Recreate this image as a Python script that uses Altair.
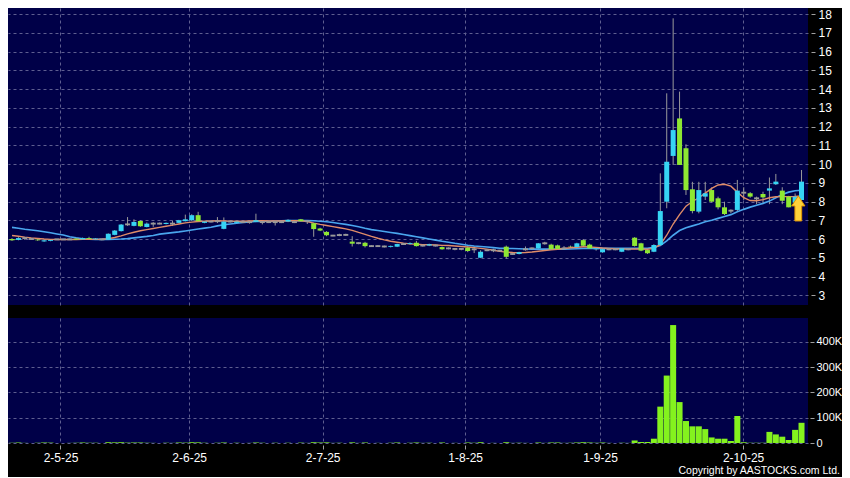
import altair as alt
import pandas as pd

# ---------------- data ----------------
opens = [
    6.00, 5.95, 6.05, 6.00, 5.97, 5.87, 5.90, 5.98, 5.98, 5.98,
    6.02, 5.98, 6.05, 5.98, 5.98, 5.96, 6.22, 6.42, 6.78, 6.70,
    6.96, 6.64, 6.82, 6.82, 6.80, 6.82, 6.86, 6.95, 7.00, 7.27,
    6.86, 6.93, 6.95, 6.54, 6.93, 6.86, 6.90, 6.90, 6.91, 6.90,
    6.90, 6.90, 6.90, 6.93, 6.90, 7.05, 6.95, 6.84, 6.56, 6.38,
    6.18, 6.21, 6.22, 5.86, 5.78, 5.80, 5.62, 5.62, 5.60, 5.58,
    5.59, 5.73, 5.73, 5.80, 5.65, 5.65, 5.65, 5.57, 5.50, 5.47,
    5.47, 5.54, 5.45, 5.00, 5.40, 5.40, 5.38, 5.59, 5.20, 5.20,
    5.45, 5.50, 5.50, 5.77, 5.70, 5.66, 5.50, 5.60, 5.57, 5.94,
    5.70, 5.45, 5.29, 5.45, 5.45, 5.32, 5.45, 6.07, 5.77, 5.41,
    5.32, 5.68, 7.99, 10.43, 12.43, 10.84, 8.65, 7.46, 8.26, 8.61,
    8.17, 7.69, 7.51, 7.55, 8.47, 8.44, 8.17, 8.40, 8.58, 8.92,
    8.58, 8.26, 7.94, 8.08,
]
closes = [
    5.93, 6.05, 6.05, 6.00, 5.93, 5.93, 5.95, 5.98, 5.98, 5.98,
    5.97, 6.05, 6.00, 6.02, 5.98, 6.28, 6.45, 6.77, 6.78, 6.91,
    6.68, 6.82, 6.82, 6.82, 6.86, 6.82, 7.00, 7.05, 7.27, 6.95,
    6.93, 6.93, 6.95, 6.93, 6.93, 6.93, 6.90, 6.90, 7.00, 6.90,
    6.90, 6.90, 6.90, 7.02, 6.90, 6.95, 6.95, 6.53, 6.45, 6.20,
    6.18, 6.21, 6.22, 5.75, 5.78, 5.62, 5.62, 5.62, 5.60, 5.63,
    5.73, 5.73, 5.78, 5.62, 5.65, 5.72, 5.65, 5.45, 5.50, 5.47,
    5.47, 5.36, 5.45, 5.32, 5.40, 5.40, 5.38, 5.05, 5.20, 5.30,
    5.45, 5.50, 5.77, 5.77, 5.46, 5.47, 5.50, 5.58, 5.77, 5.64,
    5.50, 5.50, 5.46, 5.45, 5.45, 5.50, 5.45, 5.63, 5.38, 5.24,
    5.68, 7.49, 10.12, 11.81, 9.95, 8.61, 7.49, 8.61, 8.44, 7.99,
    7.69, 7.33, 7.51, 8.58, 8.47, 8.26, 8.17, 8.22, 8.70, 9.06,
    8.04, 7.69, 8.26, 9.06,
]
highs = [
    6.05, 6.10, 6.10, 6.05, 6.00, 5.95, 5.97, 6.00, 6.00, 6.02,
    6.05, 6.08, 6.12, 6.05, 6.00, 6.30, 6.48, 6.80, 7.17, 7.05,
    7.00, 6.88, 6.90, 6.88, 6.88, 6.98, 7.02, 7.30, 7.32, 7.45,
    6.95, 6.97, 7.17, 7.15, 6.98, 6.95, 6.95, 6.95, 7.35, 7.00,
    6.95, 6.93, 6.95, 7.05, 6.95, 7.07, 7.00, 6.87, 6.60, 6.42,
    6.22, 6.28, 6.28, 6.15, 5.82, 5.85, 5.66, 5.66, 5.65, 5.65,
    5.75, 5.76, 5.82, 5.90, 5.70, 5.75, 5.70, 5.60, 5.55, 5.52,
    5.52, 5.60, 5.62, 5.40, 5.45, 5.48, 5.42, 5.65, 5.28, 5.32,
    5.60, 5.55, 5.78, 5.85, 5.75, 5.70, 5.62, 5.65, 5.80, 6.00,
    5.75, 5.52, 5.48, 5.50, 5.50, 5.52, 5.50, 6.10, 5.80, 5.45,
    5.72, 9.50, 13.77, 17.77, 13.86, 11.05, 9.05, 9.05, 9.05, 8.75,
    8.26, 7.99, 7.58, 9.15, 8.76, 8.50, 8.26, 8.52, 9.28, 9.47,
    8.76, 8.30, 8.43, 9.68,
]
lows = [
    5.90, 5.93, 5.95, 5.97, 5.90, 5.85, 5.88, 5.95, 5.95, 5.95,
    5.95, 5.97, 5.98, 5.95, 5.93, 5.95, 6.20, 6.40, 6.70, 6.68,
    6.65, 6.62, 6.65, 6.78, 6.78, 6.70, 6.84, 6.94, 6.96, 6.95,
    6.84, 6.88, 6.85, 6.52, 6.88, 6.84, 6.85, 6.82, 6.90, 6.78,
    6.85, 6.72, 6.85, 6.90, 6.85, 6.92, 6.80, 6.12, 6.42, 6.15,
    6.15, 6.15, 6.18, 5.60, 5.72, 5.55, 5.58, 5.58, 5.55, 5.55,
    5.57, 5.70, 5.70, 5.60, 5.60, 5.62, 5.60, 5.43, 5.45, 5.40,
    5.40, 5.30, 5.25, 4.98, 5.35, 5.30, 5.33, 4.95, 5.15, 5.18,
    5.38, 5.45, 5.48, 5.70, 5.44, 5.45, 5.45, 5.55, 5.55, 5.62,
    5.48, 5.38, 5.27, 5.40, 5.40, 5.30, 5.40, 5.60, 5.35, 5.20,
    5.30, 5.66, 7.64, 9.95, 9.95, 8.35, 7.37, 7.37, 8.08, 7.95,
    7.58, 7.28, 7.37, 7.46, 8.08, 8.20, 7.86, 7.86, 7.86, 8.88,
    7.86, 7.69, 7.90, 8.08,
]
volumes = [
    1000, 2000, 500, 0, 1000, 2000, 1500, 0, 0, 500,
    1000, 2000, 1000, 1000, 0, 3000, 2500, 3000, 1500, 2000,
    2000, 1000, 500, 0, 1000, 500, 2000, 1500, 3000, 2500,
    1000, 0, 1000, 2000, 0, 1000, 0, 500, 2000, 500,
    0, 1000, 0, 1000, 0, 1500, 500, 3000, 2000, 2500,
    500, 1000, 0, 2500, 500, 2000, 0, 500, 0, 1000,
    2000, 0, 1000, 2000, 500, 1000, 0, 2000, 0, 500,
    0, 2000, 1000, 3000, 0, 500, 0, 3000, 500, 1000,
    500, 0, 2000, 500, 2000, 2000, 500, 1000, 2000, 3000,
    2000, 1000, 2000, 500, 0, 1000, 500, 10000, 4000, 4000,
    17000, 144000, 267000, 467000, 162000, 87000, 66000, 66000, 55000, 22000,
    17000, 17000, 8000, 107000, 3000, 1000, 1000, 1000, 44000, 34000,
    25000, 12000, 52000, 80000,
]
ma_short = [
    6.19, 6.15, 6.10, 6.06, 6.03, 6.00, 5.98, 5.97, 5.97, 5.97,
    5.97, 5.98, 5.98, 5.98, 5.99, 6.02, 6.08, 6.17, 6.27, 6.36,
    6.44, 6.50, 6.56, 6.62, 6.68, 6.74, 6.80, 6.86, 6.90, 6.93,
    6.95, 6.96, 6.97, 6.96, 6.95, 6.95, 6.95, 6.96, 6.97, 6.97,
    6.96, 6.96, 6.96, 6.97, 6.97, 6.97, 6.93, 6.85, 6.78, 6.72,
    6.66, 6.60, 6.54, 6.46, 6.35, 6.25, 6.14, 6.04, 5.95, 5.88,
    5.83, 5.78, 5.74, 5.72, 5.70, 5.69, 5.68, 5.66, 5.65, 5.63,
    5.60, 5.57, 5.54, 5.50, 5.46, 5.40, 5.34, 5.30, 5.28, 5.27,
    5.28, 5.31, 5.35, 5.39, 5.42, 5.45, 5.49, 5.53, 5.56, 5.59,
    5.58, 5.55, 5.52, 5.50, 5.48, 5.47, 5.46, 5.47, 5.47, 5.45,
    5.50, 5.70, 6.20, 6.80, 7.30, 7.75, 8.00, 8.20, 8.45, 8.70,
    8.88, 8.92, 8.82, 8.50, 8.20, 8.05, 8.04, 8.10, 8.20, 8.25,
    8.26, 8.26, 8.27, 8.30,
]
ma_long = [
    6.62, 6.57, 6.52, 6.48, 6.44, 6.39, 6.33, 6.27, 6.21, 6.12,
    6.06, 6.01, 5.99, 5.98, 5.98, 5.98, 5.99, 6.00, 6.02, 6.06,
    6.10, 6.14, 6.19, 6.26, 6.30, 6.34, 6.38, 6.43, 6.48, 6.53,
    6.58, 6.63, 6.70, 6.76, 6.80, 6.84, 6.88, 6.91, 6.93, 6.94,
    6.95, 6.96, 6.97, 6.98, 6.98, 6.98, 6.98, 6.97, 6.95, 6.92,
    6.88, 6.83, 6.78, 6.72, 6.65, 6.57, 6.50, 6.45, 6.40, 6.35,
    6.30, 6.24, 6.18, 6.12, 6.06, 6.00, 5.94, 5.88, 5.83, 5.77,
    5.72, 5.67, 5.63, 5.60, 5.57, 5.54, 5.51, 5.50, 5.49, 5.48,
    5.47, 5.46, 5.46, 5.46, 5.46, 5.46, 5.46, 5.47, 5.48, 5.49,
    5.50, 5.50, 5.50, 5.50, 5.50, 5.50, 5.50, 5.50, 5.50, 5.50,
    5.56, 5.65, 5.90, 6.20, 6.45, 6.60, 6.70, 6.80, 6.92, 7.00,
    7.10, 7.20, 7.30, 7.45, 7.58, 7.70, 7.80, 7.90, 8.02, 8.20,
    8.38, 8.50, 8.57, 8.60,
]
date_tick_pos = [7.55, 27.6, 48.4, 70.6, 91.6, 113.9]
date_tick_labels = ["2-5-25", "2-6-25", "2-7-25", "1-8-25", "1-9-25", "2-10-25"]
price_ticks = list(range(3, 19))
volume_ticks = [0, 100000, 200000, 300000, 400000]
arrow_index = [122.5]
arrow_price = [7.63]
copyright_text = "Copyright by AASTOCKS.com Ltd."

# ---------------- styling ----------------
FONT = "Liberation Sans"
NAVY = "#000048"
GRID = "#5e5e90"
CYAN = "#36d4f4"
GREEN = "#8ee832"
GRAY = "#9a9a9a"
VOLGREEN = "#84f21e"
ORANGE = "#e08c68"
BLUE = "#4aa6ee"
PLOT_W = 800
PX_PER_DAY = 6.5

N = len(closes)
direction = ["up" if c > o else ("down" if c < o else "flat") for o, c in zip(opens, closes)]
body_lo = [min(o, c) if o != c else c - 0.05 for o, c in zip(opens, closes)]
body_hi = [max(o, c) if o != c else c + 0.05 for o, c in zip(opens, closes)]

df = pd.DataFrame({
    "i": list(range(N)), "open": opens, "high": highs, "low": lows, "close": closes,
    "lo": body_lo, "hi": body_hi, "dir": direction, "vol": volumes,
    "ma_s": ma_short, "ma_l": ma_long,
})

x0 = 0.154
xscale = alt.Scale(domain=[x0, x0 + PLOT_W / PX_PER_DAY], nice=False, zero=False)
pscale = alt.Scale(domain=[2.48, 18.32], nice=False, zero=False)
vscale = alt.Scale(domain=[0, 495000], nice=False)

# label expression for the date axis
mids = [(a + b) / 2 for a, b in zip(date_tick_pos[:-1], date_tick_pos[1:])]
expr = f"'{date_tick_labels[-1]}'"
for m, lab in reversed(list(zip(mids, date_tick_labels[:-1]))):
    expr = f"datum.value < {m} ? '{lab}' : ({expr})"

grid_x_axis = alt.Axis(values=date_tick_pos, labels=False, ticks=False, domain=False,
                       grid=True, gridColor=GRID, gridDash=[3, 3], gridWidth=1, title=None)
price_axis = alt.Axis(orient="right", values=price_ticks, grid=True, gridColor=GRID,
                      gridDash=[3, 3], gridWidth=1, domain=False, tickColor="#a0a0a0",
                      tickSize=4, offset=3, labelPadding=3, labelColor="#ffffff",
                      labelFont=FONT, labelFontSize=12, labelOverlap=False,
                      labelBound=False, title=None)

PX = alt.X("i:Q", scale=xscale, axis=grid_x_axis)

base = alt.Chart(df)
wicks = base.mark_rule(color=GRAY, strokeWidth=1, clip=True).encode(
    x=PX, y=alt.Y("low:Q", scale=pscale, axis=price_axis), y2="high:Q")
line_long = base.mark_line(color=BLUE, strokeWidth=1.6, clip=True).encode(
    x=PX, y=alt.Y("ma_l:Q", scale=pscale, axis=price_axis))
line_short = base.mark_line(color=ORANGE, strokeWidth=1.4, clip=True).encode(
    x=PX, y=alt.Y("ma_s:Q", scale=pscale, axis=price_axis))
bodies = base.mark_bar(size=5, clip=True).encode(
    x=PX,
    y=alt.Y("lo:Q", scale=pscale, axis=price_axis),
    y2="hi:Q",
    color=alt.Color("dir:N", scale=alt.Scale(domain=["up", "down", "flat"],
                                             range=[CYAN, GREEN, GRAY]), legend=None),
)
ARROW = "M0,-1L0.53,-0.2L0.27,-0.2L0.27,1L-0.27,1L-0.27,-0.2L-0.53,-0.2Z"
arrow = alt.Chart(pd.DataFrame({"i": arrow_index, "p": arrow_price})).mark_point(
    shape=ARROW, size=625, filled=True, fill="#ffd23a", stroke="#e39600",
    strokeWidth=1, opacity=1).encode(
    x=PX, y=alt.Y("p:Q", scale=pscale, axis=price_axis))

price = alt.layer(wicks, line_long, line_short, bodies, arrow).properties(width=PLOT_W, height=297)

vol_x_axis = alt.Axis(values=date_tick_pos, labelExpr=expr, grid=True, gridColor=GRID,
                      gridDash=[3, 3], gridWidth=1, domain=False, tickColor="#a0a0a0",
                      tickSize=4, offset=2, labelPadding=3, labelColor="#ffffff",
                      labelFont=FONT, labelFontSize=12, labelFlush=False,
                      labelOverlap=False, title=None)
vol_y_axis = alt.Axis(orient="right", values=volume_ticks,
                      labelExpr="datum.value == 0 ? '0' : (datum.value / 1000) + 'K'",
                      grid=True, gridColor=GRID, gridDash=[3, 3], gridWidth=1, domain=False,
                      tickColor="#a0a0a0", tickSize=4, offset=2, labelPadding=2,
                      labelColor="#ffffff", labelFont=FONT, labelFontSize=11,
                      labelOverlap=False, title=None)
vbars = base.mark_bar(size=6, color=VOLGREEN, clip=True).encode(
    x=alt.X("i:Q", scale=xscale, axis=vol_x_axis),
    y=alt.Y("vol:Q", scale=vscale, axis=vol_y_axis),
)
credit = alt.Chart(pd.DataFrame({"t": [copyright_text]})).mark_text(
    align="right", baseline="alphabetic", color="#ffffff", font=FONT, fontSize=10.5).encode(
    x=alt.value(832), y=alt.value(156), text="t:N")

volume = alt.layer(vbars, credit).properties(width=PLOT_W, height=125)

chart = alt.vconcat(price, volume, spacing=13).properties(
    padding=0, background="#000000"
).configure(font=FONT).configure_view(fill=NAVY, stroke=None)

chart.save("out.html", embed_options={"renderer": "svg", "actions": False})
